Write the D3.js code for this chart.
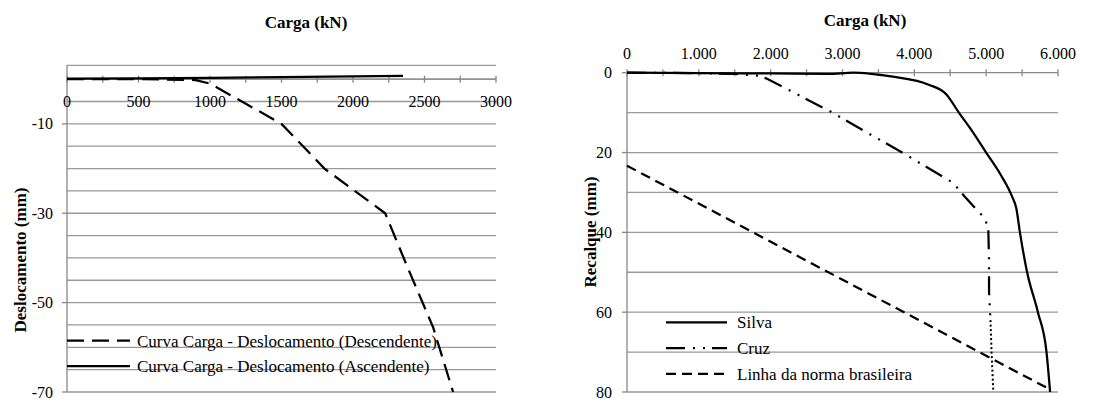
<!DOCTYPE html>
<html>
<head>
<meta charset="utf-8">
<script src="https://cdn.jsdelivr.net/npm/d3@7"></script>
<style>
  body { margin: 0; background: #fff; }
  text { font-family: "Liberation Serif", "Times New Roman", serif; fill: #000; }
</style>
</head>
<body>
<div class="vis"></div>
<script>
// left chart: curva carga - deslocamento
const ascCarga = [0, 500, 1000, 1500, 2000, 2350];
const ascDesl = [0.1, 0.2, 0.3, 0.45, 0.6, 0.75];
const descCarga = [0, 500, 900, 1000, 1500, 1800, 2225, 2380, 2560, 2700];
const descDesl = [0, 0, -0.2, -1, -10, -20, -30, -42, -55.5, -70];
const leftXTicks = [0, 500, 1000, 1500, 2000, 2500, 3000];
const leftYTicks = [-10, -30, -50, -70];

// right chart: recalque
const silvaCarga = [0, 1000, 2000, 2800, 3150, 3400, 3700, 4200, 4450, 4620, 4800, 5000, 5200, 5360, 5420, 5470, 5570, 5720, 5840, 5890];
const silvaRecalque = [0, 0.1, 0.2, 0.3, 0, 0.3, 1, 3, 5.5, 10, 14.5, 20, 25.5, 31, 34, 40, 50, 60, 70, 80];
const cruzCarga = [0, 1000, 1500, 1800, 1950, 2850, 3430, 3830, 4540, 4700, 4890, 4985, 5030, 5040, 5040, 5060, 5075, 5100];
const cruzRecalque = [0, 0.1, 0.3, 0.7, 1.5, 9.9, 15.9, 20, 27.6, 31, 34.8, 36.5, 39.5, 47, 55, 62, 70, 80];
const normaCarga = [0, 5850];
const normaRecalque = [23.3, 79];
const rightXTicks = [0, 1000, 2000, 3000, 4000, 5000, 6000];
const rightYTicks = [0, 20, 40, 60, 80];

const legendLeft = ["Curva Carga - Deslocamento (Descendente)", "Curva Carga - Deslocamento (Ascendente)"];
const legendRight = ["Silva", "Cruz", "Linha da norma brasileira"];

const W = 1115, H = 401;
const grid = "#999", axisColor = "#888";
const ptBR = d3.formatLocale({ decimal: ",", thousands: ".", grouping: [3], currency: ["R$", ""] });
const fmt = ptBR.format(",");

const svg = d3.select(".vis").append("svg").attr("width", W).attr("height", H);

const zip = function(xs, ys) {
  return xs.map(function(v, i) { return { x: v, y: ys[i] }; });
};

// ---------- left chart ----------
const xL = d3.scaleLinear().domain([0, 3000]).range([67, 496]);
const yL = d3.scaleLinear().domain([-70, 3.1]).range([392, 65.3]);
const gL = svg.append("g");
const dashL = "17,8";

// gridlines every 5 mm + top edge
gL.selectAll(".gl")
  .data(d3.range(-70, 1, 5).concat([3.1]))
  .enter().append("line")
  .attr("x1", xL(0)).attr("x2", xL(3000))
  .attr("y1", function(d) { return yL(d); }).attr("y2", function(d) { return yL(d); })
  .attr("stroke", grid).attr("stroke-width", 1.3);

// vertical axis
gL.append("line")
  .attr("x1", xL(0)).attr("x2", xL(0)).attr("y1", yL(3.1)).attr("y2", yL(-70))
  .attr("stroke", axisColor).attr("stroke-width", 1.3);
gL.selectAll(".yt").data(leftYTicks).enter().append("line")
  .attr("x1", xL(0) - 5).attr("x2", xL(0))
  .attr("y1", function(d) { return yL(d); }).attr("y2", function(d) { return yL(d); })
  .attr("stroke", axisColor).attr("stroke-width", 1.3);
gL.selectAll(".yl").data(leftYTicks).enter().append("text")
  .attr("x", 53).attr("y", function(d) { return yL(d); })
  .attr("dy", "0.35em").attr("text-anchor", "end").attr("font-size", 16)
  .text(function(d) { return d; });

// X axis at zero, ticks crossing
gL.append("line")
  .attr("x1", xL(0)).attr("x2", xL(3000)).attr("y1", yL(0)).attr("y2", yL(0))
  .attr("stroke", axisColor).attr("stroke-width", 1.3);
gL.selectAll(".xt").data(d3.range(0, 3001, 250)).enter().append("line")
  .attr("x1", function(d) { return xL(d); }).attr("x2", function(d) { return xL(d); })
  .attr("y1", yL(0) - 3.5).attr("y2", yL(0) + 3.5)
  .attr("stroke", axisColor).attr("stroke-width", 1.3);
gL.selectAll(".xl").data(leftXTicks).enter().append("text")
  .attr("x", function(d) { return xL(d); }).attr("y", yL(0) + 22)
  .attr("dy", "0.35em").attr("text-anchor", "middle").attr("font-size", 16)
  .text(function(d) { return d; });

// titles
gL.append("text").attr("x", 306).attr("y", 22).attr("dy", "0.35em")
  .attr("text-anchor", "middle").attr("font-size", 17).attr("font-weight", "bold")
  .text("Carga (kN)");
gL.append("text").attr("transform", "translate(26,260) rotate(-90)")
  .attr("text-anchor", "middle").attr("font-size", 17).attr("font-weight", "bold")
  .text("Deslocamento (mm)");

const lineL = d3.line()
  .x(function(d) { return xL(d.x); })
  .y(function(d) { return yL(d.y); });

gL.append("path").datum(zip(descCarga, descDesl))
  .attr("fill", "none").attr("stroke", "#000").attr("stroke-width", 2.25)
  .attr("stroke-dasharray", dashL).attr("d", lineL);
gL.append("path").datum(zip(ascCarga, ascDesl))
  .attr("fill", "none").attr("stroke", "#000").attr("stroke-width", 2.25)
  .attr("d", lineL);

// legend left
const legL = gL.selectAll(".leg").data(legendLeft).enter().append("g")
  .attr("transform", function(d, i) { return "translate(0," + (340.7 + i * 25.3) + ")"; });
legL.append("line").attr("x1", 67).attr("x2", 130)
  .attr("stroke", "#000").attr("stroke-width", 2.25)
  .attr("stroke-dasharray", function(d, i) { return i === 0 ? dashL : null; });
legL.append("text").attr("x", 137).attr("dy", "0.35em").attr("font-size", 17)
  .text(function(d) { return d; });

// ---------- right chart ----------
const xR = d3.scaleLinear().domain([0, 6000]).range([627, 1058]);
const yR = d3.scaleLinear().domain([0, 80]).range([72.7, 392]);
const gR = svg.append("g");

gR.selectAll(".gl")
  .data(d3.range(10, 81, 10))
  .enter().append("line")
  .attr("x1", xR(0)).attr("x2", xR(6000))
  .attr("y1", function(d) { return yR(d); }).attr("y2", function(d) { return yR(d); })
  .attr("stroke", grid).attr("stroke-width", 1.3);

gR.append("line")
  .attr("x1", xR(0)).attr("x2", xR(0)).attr("y1", yR(0)).attr("y2", yR(80))
  .attr("stroke", axisColor).attr("stroke-width", 1.3);
gR.selectAll(".yt").data(rightYTicks).enter().append("line")
  .attr("x1", xR(0) - 5).attr("x2", xR(0))
  .attr("y1", function(d) { return yR(d); }).attr("y2", function(d) { return yR(d); })
  .attr("stroke", axisColor).attr("stroke-width", 1.3);
gR.selectAll(".yl").data(rightYTicks).enter().append("text")
  .attr("x", 612).attr("y", function(d) { return yR(d); })
  .attr("dy", "0.35em").attr("text-anchor", "end").attr("font-size", 16)
  .text(function(d) { return d; });

// top X axis
gR.append("line")
  .attr("x1", xR(0)).attr("x2", xR(6000)).attr("y1", yR(0)).attr("y2", yR(0))
  .attr("stroke", axisColor).attr("stroke-width", 1.3);
gR.selectAll(".xt").data(d3.range(0, 6001, 500)).enter().append("line")
  .attr("x1", function(d) { return xR(d); }).attr("x2", function(d) { return xR(d); })
  .attr("y1", yR(0) - 3.5).attr("y2", yR(0) + 3.5)
  .attr("stroke", axisColor).attr("stroke-width", 1.3);
gR.selectAll(".xl").data(rightXTicks).enter().append("text")
  .attr("x", function(d) { return xR(d); }).attr("y", 53)
  .attr("dy", "0.35em").attr("text-anchor", "middle").attr("font-size", 16)
  .text(function(d) { return fmt(d); });

gR.append("text").attr("x", 865).attr("y", 20).attr("dy", "0.35em")
  .attr("text-anchor", "middle").attr("font-size", 17).attr("font-weight", "bold")
  .text("Carga (kN)");
gR.append("text").attr("transform", "translate(596,232) rotate(-90)")
  .attr("text-anchor", "middle").attr("font-size", 17).attr("font-weight", "bold")
  .text("Recalque (mm)");

const lineR = d3.line()
  .x(function(d) { return xR(d.x); })
  .y(function(d) { return yR(d.y); });

const dashDotDot = "19,8,2,8,2,7";
const dashNorma = "10,6";
const cruz = zip(cruzCarga, cruzRecalque);
const cut = cruz.findIndex(function(d) { return d.y >= 62; });

gR.append("path").datum(zip(normaCarga, normaRecalque))
  .attr("fill", "none").attr("stroke", "#000").attr("stroke-width", 2.25)
  .attr("stroke-dasharray", dashNorma).attr("d", lineR);
gR.append("path").datum(cruz.slice(0, cut + 1))
  .attr("fill", "none").attr("stroke", "#000").attr("stroke-width", 2.25)
  .attr("stroke-dasharray", dashDotDot).attr("d", lineR);
gR.append("path").datum(cruz.slice(cut))
  .attr("fill", "none").attr("stroke", "#000").attr("stroke-width", 2)
  .attr("stroke-dasharray", "2,2.5").attr("d", lineR);
// Silva is smoothed like the original
gR.append("path").datum(zip(silvaCarga, silvaRecalque))
  .attr("fill", "none").attr("stroke", "#000").attr("stroke-width", 2.25)
  .attr("d", d3.line()
    .x(function(d) { return xR(d.x); })
    .y(function(d) { return yR(d.y); })
    .curve(d3.curveMonotoneX));

// legend right
const legR = gR.selectAll(".leg").data(legendRight).enter().append("g")
  .attr("transform", function(d, i) { return "translate(0," + (322.3 + i * 25.8) + ")"; });
legR.append("line").attr("x1", 666).attr("x2", 727)
  .attr("stroke", "#000").attr("stroke-width", 2.25)
  .attr("stroke-dasharray", function(d, i) { return [null, dashDotDot, dashNorma][i]; });
legR.append("text").attr("x", 737).attr("dy", "0.35em").attr("font-size", 17)
  .text(function(d) { return d; });
</script>
</body>
</html>
